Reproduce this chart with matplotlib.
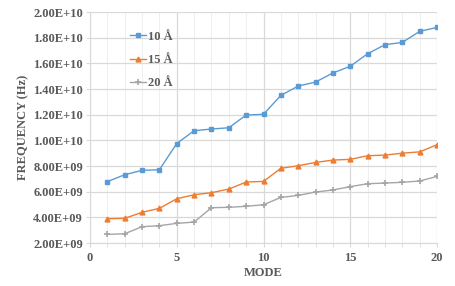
import matplotlib
matplotlib.use("Agg")
import matplotlib.pyplot as plt
from matplotlib.ticker import MultipleLocator, FuncFormatter

modes = list(range(1, 21))
freq_10A = [6.78e9, 7.32e9, 7.66e9, 7.71e9, 9.75e9, 10.75e9, 10.88e9, 10.98e9, 11.97e9, 12.03e9,
            13.5e9, 14.23e9, 14.54e9, 15.25e9, 15.77e9, 16.75e9, 17.45e9, 17.63e9, 18.49e9, 18.8e9]
freq_15A = [3.89e9, 3.92e9, 4.39e9, 4.70e9, 5.45e9, 5.76e9, 5.92e9, 6.2e9, 6.75e9, 6.80e9,
            7.82e9, 8.02e9, 8.28e9, 8.46e9, 8.52e9, 8.8e9, 8.85e9, 9.0e9, 9.1e9, 9.66e9]
freq_20A = [2.67e9, 2.72e9, 3.27e9, 3.35e9, 3.53e9, 3.63e9, 4.75e9, 4.78e9, 4.86e9, 4.98e9,
            5.55e9, 5.71e9, 5.97e9, 6.13e9, 6.39e9, 6.62e9, 6.67e9, 6.73e9, 6.83e9, 7.19e9]
labels = ["10 Å", "15 Å", "20 Å"]

plt.rcParams['font.family'] = ['Liberation Serif', 'DejaVu Serif']
plt.rcParams['font.weight'] = 'bold'

fig = plt.figure(figsize=(4.55, 2.86), dpi=100)
ax = fig.add_axes([90/455, 1-243/286, (437-90)/455, (243-12)/286])

ax.plot(modes, freq_10A, color='#5B9BD5', marker='s', markersize=3.5, lw=1.0, label=labels[0])
ax.plot(modes, freq_15A, color='#ED7D31', marker='^', markersize=3.5, lw=1.0, label=labels[1])
ax.plot(modes, freq_20A, color='#A5A5A5', marker='+', markersize=4, mew=1.2, lw=1.0, label=labels[2])

ax.set_xlim(0, 20)
ax.set_ylim(2e9, 2e10)
ax.xaxis.set_major_locator(MultipleLocator(5))
ax.xaxis.set_minor_locator(MultipleLocator(1))
ax.yaxis.set_major_locator(MultipleLocator(2e9))
ax.yaxis.set_major_formatter(FuncFormatter(lambda v, p: f"{v:.2E}"))

ax.grid(which='major', axis='both', color='#D9D9D9', lw=0.9)
ax.grid(which='minor', axis='x', color='#EFEFEF', lw=0.7)
ax.set_axisbelow(True)
for s in ['top', 'right']:
    ax.spines[s].set_visible(False)
for s in ['left', 'bottom']:
    ax.spines[s].set_color('#D9D9D9')
ax.tick_params(axis='both', which='major', colors='#D9D9D9', labelcolor='#595959', labelsize=9, length=3)
ax.tick_params(axis='x', which='minor', colors='#D9D9D9', length=3)
ax.tick_params(axis='y', pad=2)

ax.set_xlabel('MODE', fontsize=9, fontweight='bold', color='#595959', labelpad=2)
ax.set_ylabel('FREQUENCY (Hz)', fontsize=9, fontweight='bold', color='#595959', labelpad=3)

leg = ax.legend(loc='upper left', bbox_to_anchor=(0.1, 0.94), frameon=False, fontsize=9,
                handlelength=1.3, handletextpad=0.15, labelspacing=0.9, borderaxespad=0)
for t in leg.get_texts():
    t.set_color('#595959')

fig.savefig('out.png', dpi=100)
